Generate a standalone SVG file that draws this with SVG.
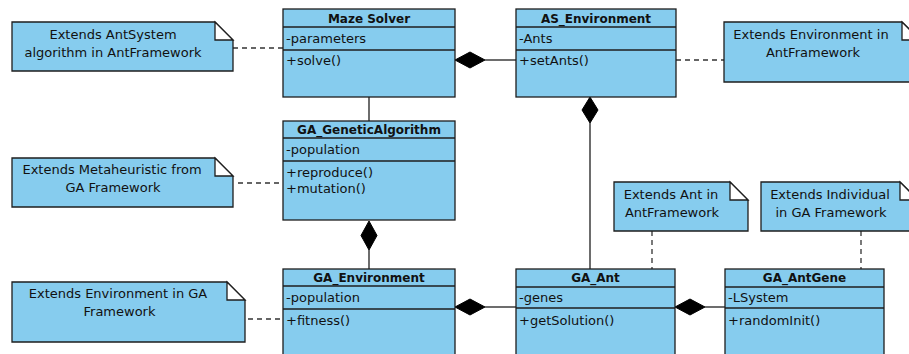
<svg xmlns="http://www.w3.org/2000/svg" width="909" height="354" viewBox="0 0 909 354">
<style>
.box{fill:#86CCEE;stroke:#1e1e1e;stroke-width:1.3}
.div{stroke:#1e1e1e;stroke-width:1.3;fill:none}
.note{fill:#86CCEE;stroke:#1e1e1e;stroke-width:1.3}
.fold{fill:#ffffff;stroke:#1e1e1e;stroke-width:1.3}
.hd{font-family:"DejaVu Sans",sans-serif;font-weight:bold;font-size:12px;fill:#111;text-anchor:middle}
.tx{font-family:"DejaVu Sans",sans-serif;font-size:13px;fill:#111}
.nt{font-family:"DejaVu Sans",sans-serif;font-size:13px;fill:#111;text-anchor:middle}
.ln{stroke:#1e1e1e;stroke-width:1.3;fill:none}
.dash{stroke:#333;stroke-width:1.3;fill:none;stroke-dasharray:5 4}
.dia{fill:#000;stroke:#000;stroke-width:1}
</style>
<rect width="909" height="354" fill="#ffffff"/>
<g id="connectors">
<line class="ln" x1="485" y1="60" x2="516" y2="60"/>
<polygon class="dia" points="455,60 470,52 485,60 470,68"/>
<line class="ln" x1="590" y1="123" x2="590" y2="269"/>
<polygon class="dia" points="590,97 598,110 590,123 582,110"/>
<line class="ln" x1="369" y1="97" x2="369" y2="121"/>
<line class="ln" x1="369" y1="250" x2="369" y2="269"/>
<polygon class="dia" points="369,221 377,235.5 369,250 361,235.5"/>
<line class="ln" x1="485" y1="307" x2="516" y2="307"/>
<polygon class="dia" points="455,307 470,299 485,307 470,315"/>
<line class="ln" x1="705" y1="307" x2="725" y2="307"/>
<polygon class="dia" points="675,307 690,299 705,307 690,315"/>
<line class="dash" x1="233" y1="48" x2="283" y2="48"/>
<line class="dash" x1="676" y1="60" x2="724" y2="60"/>
<line class="dash" x1="238" y1="183" x2="283" y2="183"/>
<line class="dash" x1="248" y1="319" x2="283" y2="319"/>
<line class="dash" x1="652" y1="231" x2="652" y2="269"/>
<line class="dash" x1="861" y1="231" x2="861" y2="269"/>
</g>
<g id="maze_solver">
<rect class="box" x="283" y="9" width="172" height="88"/>
<line class="div" x1="283" y1="27" x2="455" y2="27"/>
<line class="div" x1="283" y1="50" x2="455" y2="50"/>
<text class="hd" x="369" y="23">Maze Solver</text>
<text class="tx" x="286" y="43">-parameters</text>
<text class="tx" x="286" y="65">+solve()</text>
</g>
<g id="as_environment">
<rect class="box" x="516" y="9" width="160" height="88"/>
<line class="div" x1="516" y1="27" x2="676" y2="27"/>
<line class="div" x1="516" y1="50" x2="676" y2="50"/>
<text class="hd" x="596" y="23">AS_Environment</text>
<text class="tx" x="519" y="43">-Ants</text>
<text class="tx" x="519" y="65">+setAnts()</text>
</g>
<g id="ga_geneticalgorithm">
<rect class="box" x="283" y="121" width="172" height="99"/>
<line class="div" x1="283" y1="138" x2="455" y2="138"/>
<line class="div" x1="283" y1="161" x2="455" y2="161"/>
<text class="hd" x="369" y="134">GA_GeneticAlgorithm</text>
<text class="tx" x="286" y="154">-population</text>
<text class="tx" x="286" y="177">+reproduce()</text>
<text class="tx" x="286" y="193">+mutation()</text>
</g>
<g id="ga_environment">
<rect class="box" x="283" y="269" width="172" height="100"/>
<line class="div" x1="283" y1="286" x2="455" y2="286"/>
<line class="div" x1="283" y1="309" x2="455" y2="309"/>
<text class="hd" x="369" y="282">GA_Environment</text>
<text class="tx" x="286" y="302">-population</text>
<text class="tx" x="286" y="325">+fitness()</text>
</g>
<g id="ga_ant">
<rect class="box" x="516" y="269" width="159" height="100"/>
<line class="div" x1="516" y1="287" x2="675" y2="287"/>
<line class="div" x1="516" y1="308" x2="675" y2="308"/>
<text class="hd" x="595.5" y="282">GA_Ant</text>
<text class="tx" x="519" y="302">-genes</text>
<text class="tx" x="519" y="325">+getSolution()</text>
</g>
<g id="ga_antgene">
<rect class="box" x="725" y="269" width="159" height="100"/>
<line class="div" x1="725" y1="287" x2="884" y2="287"/>
<line class="div" x1="725" y1="308" x2="884" y2="308"/>
<text class="hd" x="804.5" y="282">GA_AntGene</text>
<text class="tx" x="728" y="302">-LSystem</text>
<text class="tx" x="728" y="325">+randomInit()</text>
</g>
<g id="note_antsystem">
<path class="note" d="M12,22 H215 L233,40 V71 H12 Z"/>
<path class="fold" d="M215,22 V40 H233 Z"/>
<text class="nt" x="113" y="39">Extends AntSystem</text>
<text class="nt" x="113" y="57">algorithm in AntFramework</text>
</g>
<g id="note_as_env">
<path class="note" d="M724,22 H902 L920,40 V82 H724 Z"/>
<path class="fold" d="M902,22 V40 H920 Z"/>
<text class="nt" x="811" y="39">Extends Environment in</text>
<text class="nt" x="813" y="57">AntFramework</text>
</g>
<g id="note_metaheuristic">
<path class="note" d="M12,158 H215 L233,176 V207 H12 Z"/>
<path class="fold" d="M215,158 V176 H233 Z"/>
<text class="nt" x="112" y="174">Extends Metaheuristic from</text>
<text class="nt" x="113" y="192">GA Framework</text>
</g>
<g id="note_ga_env">
<path class="note" d="M12,282 H227 L245,300 V342 H12 Z"/>
<path class="fold" d="M227,282 V300 H245 Z"/>
<text class="nt" x="118" y="298">Extends Environment in GA</text>
<text class="nt" x="119.5" y="316">Framework</text>
</g>
<g id="note_ant">
<path class="note" d="M614,182 H730 L748,200 V231 H614 Z"/>
<path class="fold" d="M730,182 V200 H748 Z"/>
<text class="nt" x="671" y="199">Extends Ant in</text>
<text class="nt" x="672" y="217">AntFramework</text>
</g>
<g id="note_individual">
<path class="note" d="M761,182 H900 L918,200 V231 H761 Z"/>
<path class="fold" d="M900,182 V200 H918 Z"/>
<text class="nt" x="830" y="199">Extends Individual</text>
<text class="nt" x="831" y="217">in GA Framework</text>
</g>
</svg>
